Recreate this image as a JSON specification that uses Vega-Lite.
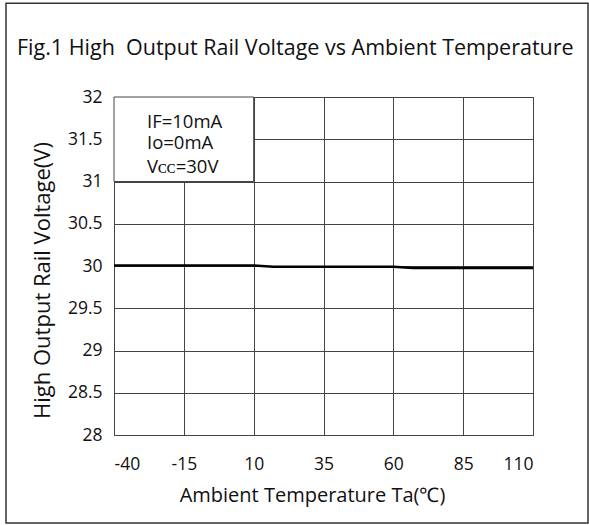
{
  "$schema": "https://vega.github.io/schema/vega-lite/v6.json",
  "width": 419,
  "height": 338,
  "autosize": {"type": "none"},
  "padding": {"left": 114, "top": 97, "right": 56, "bottom": 90},
  "background": "white",
  "title": {
    "text": "Fig.1 High\u00a0 Output Rail Voltage vs Ambient Temperature",
    "anchor": "start",
    "frame": "group",
    "dx": -97,
    "offset": -57,
    "font": "Open Sans",
    "fontSize": 21.5,
    "fontWeight": "normal",
    "color": "#111111"
  },
  "config": {
    "view": {"stroke": "#444444", "strokeWidth": 1},
    "font": "Open Sans",
    "axis": {
      "grid": true,
      "gridColor": "#444444",
      "gridOpacity": 1,
      "gridWidth": 1,
      "domain": false,
      "ticks": false,
      "tickSize": 0,
      "labelFont": "Open Sans",
      "labelFontSize": 17.5,
      "labelColor": "#111111",
      "titleFont": "Open Sans",
      "titleFontWeight": "normal",
      "titleColor": "#111111"
    }
  },
  "datasets": {
    "curve": [
      {"Ta": -40, "V": 30.005},
      {"Ta": 10, "V": 30.005},
      {"Ta": 17, "V": 29.99},
      {"Ta": 60, "V": 29.99},
      {"Ta": 67, "V": 29.975},
      {"Ta": 110, "V": 29.975}
    ],
    "box": [{"x1": -40, "x2": 10, "y1": 31, "y2": 32}],
    "frame": [{"x1": -78.66, "x2": 129.69, "y1": 26.96, "y2": 33.11}],
    "notes": [
      {"Ta": -28.2, "V": 31.71, "label": "IF=10mA"},
      {"Ta": -28.2, "V": 31.45, "label": "Io=0mA"},
      {"Ta": -28.2, "V": 31.17, "label": "Vᴄᴄ=30V"}
    ]
  },
  "layer": [
    {
      "data": {"name": "box"},
      "mark": {"type": "rect", "fill": "white", "stroke": "#444444", "strokeWidth": 1},
      "encoding": {
        "x": {
          "field": "x1", "type": "quantitative",
          "scale": {"domain": [-40, 110], "nice": false, "zero": false},
          "axis": {
            "values": [-40, -15, 10, 35, 60, 85, 110],
            "labelExpr": "datum.value + ''",
            "labelPadding": 20,
            "title": "Ambient Temperature Ta(℃)",
            "titleFontSize": 20,
            "titleX": 198,
            "titleY": 60,
            "titleBaseline": "middle"
          }
        },
        "x2": {"field": "x2"},
        "y": {
          "field": "y1", "type": "quantitative",
          "scale": {"domain": [28, 32], "nice": false, "zero": false},
          "axis": {
            "values": [28, 28.5, 29, 29.5, 30, 30.5, 31, 31.5, 32],
            "labelExpr": "datum.value + ''",
            "labelPadding": 12,
            "title": "High Output Rail Voltage(V)",
            "titleFontSize": 22,
            "titleX": -72,
            "titleY": 183,
            "titleBaseline": "middle"
          }
        },
        "y2": {"field": "y2"}
      }
    },
    {
      "data": {"name": "frame"},
      "mark": {"type": "rect", "fill": null, "filled": false, "stroke": "#333333", "strokeWidth": 1.5, "clip": false},
      "encoding": {
        "x": {"field": "x1", "type": "quantitative"},
        "x2": {"field": "x2"},
        "y": {"field": "y1", "type": "quantitative"},
        "y2": {"field": "y2"}
      }
    },
    {
      "data": {"name": "curve"},
      "mark": {"type": "line", "color": "#000000", "strokeWidth": 2.5},
      "encoding": {
        "x": {"field": "Ta", "type": "quantitative"},
        "y": {"field": "V", "type": "quantitative"}
      }
    },
    {
      "data": {"name": "notes"},
      "mark": {"type": "text", "align": "left", "baseline": "middle", "font": "Open Sans", "fontSize": 18.5, "color": "#111111"},
      "encoding": {
        "x": {"field": "Ta", "type": "quantitative"},
        "y": {"field": "V", "type": "quantitative"},
        "text": {"field": "label"}
      }
    }
  ]
}
